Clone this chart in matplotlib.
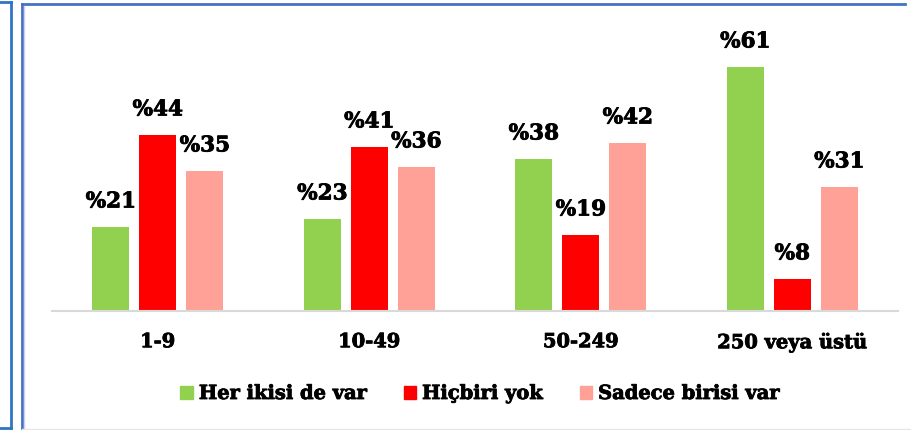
import matplotlib
matplotlib.use('Agg')
import matplotlib.pyplot as plt
import matplotlib.patheffects as pe
from matplotlib.patches import Rectangle
from matplotlib.lines import Line2D
import numpy as np

# veriler
kategoriler = ['1-9', '10-49', '50-249', '250 veya üstü']
her_ikisi = [21, 23, 38, 61]
hicbiri = [44, 41, 19, 8]
sadece_biri = [35, 36, 42, 31]
seri_adlari = ['Her ikisi de var', 'Hiçbiri yok', 'Sadece birisi var']
renkler = ['#92D050', '#FF0000', '#FFA197']

W, H = 912, 430
fig = plt.figure(figsize=(W / 100, H / 100), dpi=100)
plt.rcParams['font.family'] = 'DejaVu Serif'

# yazilari biraz kalinlastir
kalin = [pe.withStroke(linewidth=0.6, foreground='black')]

# cerceveler (piksel koordinatlari)
def px_line(x0, y0, x1, y1, color, lw):
    fig.add_artist(Line2D([x0 / W, x1 / W], [1 - y0 / H, 1 - y1 / H],
                          color=color, lw=lw, transform=fig.transFigure))

px_line(0, 1.5, 11, 1.5, '#2E75C6', 2)
px_line(11, 1.5, 11, 428, '#2E75C6', 2)
px_line(0, 428, 11, 428, '#2E75C6', 2)
px_line(22, 4, 905, 4, '#4472C4', 2)
px_line(22, 4, 22, 430, '#4472C4', 2)
px_line(24.5, 6, 24.5, 430, '#C9D5EE', 1)
px_line(22, 428.5, 912, 428.5, '#E6E6E6', 1)

# grafik alani
ax_l, ax_r, ax_b, ax_t = 52, 898, 311, 20
ax = fig.add_axes([ax_l / W, 1 - ax_b / H, (ax_r - ax_l) / W, (ax_b - ax_t) / H])
ax.set_xlim(-0.5, 3.5)
ax.set_ylim(0, (ax_b - ax_t) / 4.0)

x = np.arange(len(kategoriler))
genislik = 37 / 211.5
kaydir = 47 / 211.5
seriler = [her_ikisi, hicbiri, sadece_biri]
for i, (vals, renk, ad) in enumerate(zip(seriler, renkler, seri_adlari)):
    bars = ax.bar(x + (i - 1) * kaydir, vals, genislik, color=renk, label=ad)
    for b, v in zip(bars, vals):
        ax.annotate('%' + str(v), (b.get_x() + b.get_width() / 2, v),
                    xytext=(0, 10.5), textcoords='offset points',
                    ha='center', va='bottom', fontsize=15.5, fontweight='bold',
                    path_effects=kalin)

for s in ['top', 'right', 'left']:
    ax.spines[s].set_visible(False)
ax.spines['bottom'].set_color('#D9D9D9')
ax.spines['bottom'].set_linewidth(1.5)
ax.set_yticks([])
ax.set_xticks(x)
ax.set_xticklabels(kategoriler, fontsize=14, fontweight='bold', path_effects=kalin)
ax.tick_params(axis='x', length=0, pad=16)

handles = [Rectangle((0, 0), 1, 1, color=c) for c in renkler]
leg = fig.legend(handles, seri_adlari, loc='center', bbox_to_anchor=(480 / W, 1 - 394 / H),
                 ncol=3, frameon=False, prop={'size': 14, 'weight': 'bold'},
                 handlelength=0.65, handleheight=0.65, handletextpad=0.3, columnspacing=1.9)
for t in leg.get_texts():
    t.set_path_effects(kalin)

fig.savefig('out.png', dpi=100)
